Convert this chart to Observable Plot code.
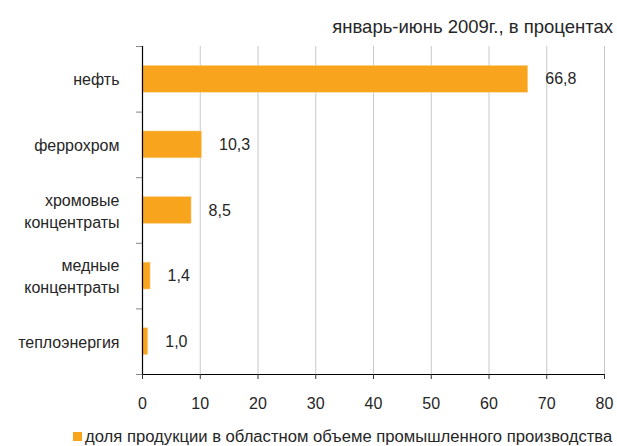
<!DOCTYPE html>
<html>
<head>
<meta charset="utf-8">
<script src="https://cdn.jsdelivr.net/npm/d3@7"></script>
<script src="https://cdn.jsdelivr.net/npm/@observablehq/plot@0.6"></script>
<style>
  html, body { margin: 0; padding: 0; background: #fff; }
  #wrap { position: relative; width: 617px; height: 446px; font-family: "Liberation Sans", Arial, sans-serif; color: #262626; }
  #title { position: absolute; right: 4px; top: 16px; font-size: 18.5px; line-height: 22px; white-space: nowrap; }
  #legend { position: absolute; left: 73px; top: 427px; font-size: 16.65px; line-height: 19px; white-space: nowrap; display: flex; align-items: center; }
  #legend .sw { width: 9px; height: 9px; background: #f8a51d; margin-right: 3px; }
  #chart { position: absolute; left: 0; top: 0; }
</style>
</head>
<body>
<div id="wrap">
  <div id="chart"></div>
  <div id="title">январь-июнь 2009г., в процентах</div>
  <div id="legend"><span class="sw"></span><span>доля продукции в областном объеме промышленного производства</span></div>
</div>
<script>
const categories = ["нефть", "феррохром", "хромовые\nконцентраты", "медные\nконцентраты", "теплоэнергия"];
const values = [66.8, 10.3, 8.5, 1.4, 1.0];
const xTicks = [0, 10, 20, 30, 40, 50, 60, 70, 80];

const data = categories.map((c, i) => ({cat: c, idx: i, value: values[i]}));
const fmt = v => d3.format(".1f")(v).replace(".", ",");
const boundaries = d3.range(categories.length + 1).map(i => i - 0.5);

const chart = Plot.plot({
  width: 617,
  height: 446,
  marginLeft: 142,
  marginRight: 13,
  marginTop: 46,
  marginBottom: 72,
  style: {fontFamily: "'Liberation Sans', Arial, sans-serif", fontSize: "16px", color: "#262626", background: "transparent"},
  x: {domain: [0, 80], ticks: xTicks},
  y: {domain: [-0.5, categories.length - 0.5], reverse: true},
  marks: [
    Plot.ruleX(xTicks.filter(d => d > 0), {stroke: "#c8c8c8", strokeWidth: 1}),
    Plot.rectX(data, {x1: 0, x2: "value", y1: d => d.idx - 0.205, y2: d => d.idx + 0.205, fill: "#f8a51d", stroke: "#fbd9a0", strokeWidth: 0.5}),
    Plot.axisY({ticks: boundaries, tickSize: 6, tickFormat: () => "", stroke: "#888", label: null}),
    Plot.ruleX([0], {stroke: "#000", strokeWidth: 1.2}),
    Plot.ruleY([categories.length - 0.5], {stroke: "#000", strokeWidth: 1.2}),
    Plot.axisX({ticks: xTicks, tickSize: 5, tickPadding: 18, stroke: "#333", label: null, fontSize: 16}),
    Plot.text(data, {x: 0, y: "idx", text: "cat", dx: -23, dy: -1, textAnchor: "end", lineHeight: 1.375, fill: "#262626", fontSize: 16}),
    Plot.text(data, {x: "value", y: "idx", text: d => fmt(d.value), dx: 17, textAnchor: "start", fill: "#262626", fontSize: 16})
  ]
});
document.getElementById("chart").appendChild(chart);
</script>
</body>
</html>
